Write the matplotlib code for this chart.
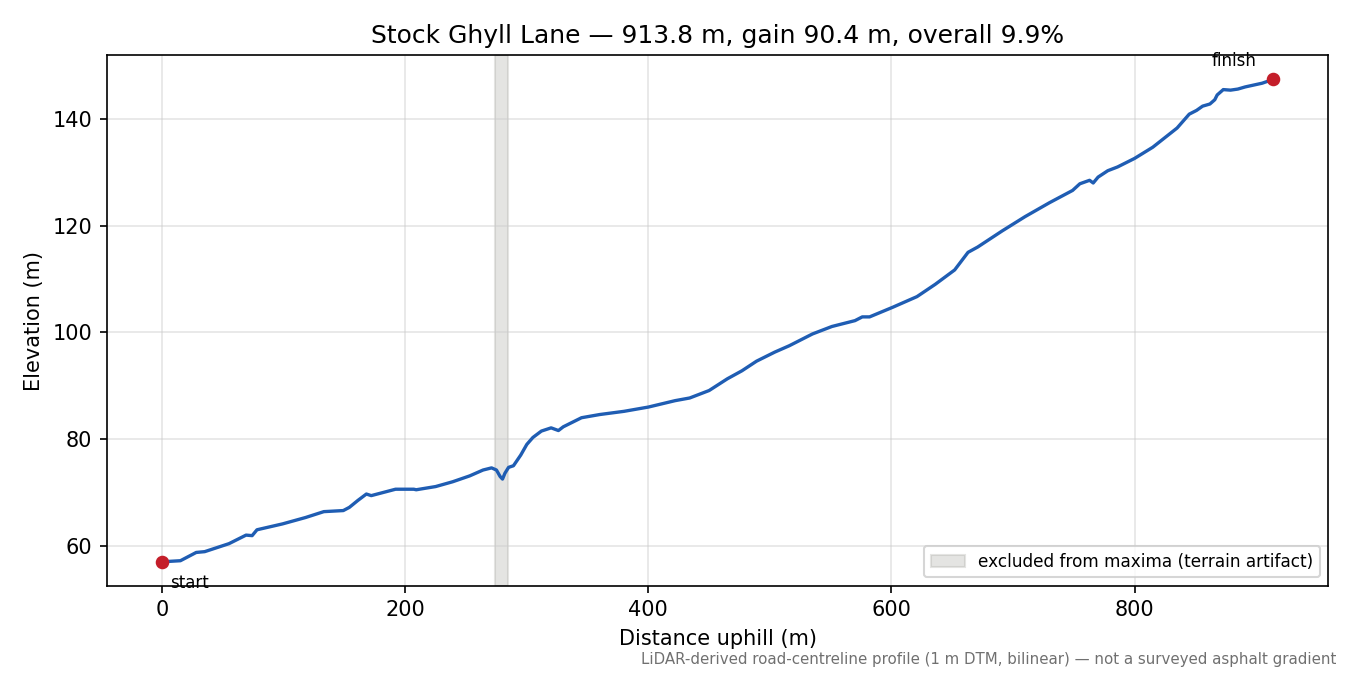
import matplotlib
matplotlib.use("Agg")
import matplotlib.pyplot as plt

# distance along the lane (m) and elevation (m)
dist = [0, 15, 28, 35, 55, 69, 74, 78, 99, 118,
        133, 149, 154, 161, 168, 172, 192, 207, 209, 225,
        239, 253, 264, 271, 275, 278, 280, 282, 285, 289,
        295, 300, 305, 312, 320, 326, 330, 345, 360, 380,
        400, 422, 434, 450, 465, 477, 489, 504, 516, 535,
        551, 570, 576, 582, 601, 621, 636, 652, 656, 663,
        671, 691, 710, 730, 749, 755, 763, 766, 770, 778,
        786, 800, 815, 835, 845, 851, 856, 862, 866, 868,
        873, 879, 885, 891, 905, 913.8]
elev = [57.0, 57.2, 58.75, 58.9, 60.4, 62.0, 61.9, 63.0, 64.1, 65.3,
        66.4, 66.6, 67.2, 68.5, 69.7, 69.4, 70.6, 70.6, 70.5, 71.1,
        72.0, 73.1, 74.2, 74.6, 74.2, 73.0, 72.5, 73.6, 74.7, 75.0,
        77.0, 79.0, 80.3, 81.5, 82.1, 81.6, 82.3, 84.0, 84.6, 85.2,
        86.0, 87.2, 87.7, 89.1, 91.3, 92.8, 94.6, 96.3, 97.5, 99.7,
        101.1, 102.2, 102.9, 102.9, 104.7, 106.7, 109.0, 111.7, 112.9, 115.0,
        116.0, 119.0, 121.7, 124.3, 126.6, 127.85, 128.5, 128.0, 129.1, 130.3,
        131.0, 132.6, 134.7, 138.3, 140.9, 141.6, 142.4, 142.8, 143.6, 144.5,
        145.5, 145.4, 145.6, 146.0, 146.7, 147.4]

# stretch left out when looking for maxima
excluded = (273.5, 284.3)

fig, ax = plt.subplots(figsize=(9, 4.5), dpi=150)
fig.subplots_adjust(left=0.079, right=0.984, top=0.918, bottom=0.132)

ax.axvspan(excluded[0], excluded[1], color="#a8a8a0", alpha=0.3,
           label="excluded from maxima (terrain artifact)")
ax.plot(dist, elev, color="#1f5db3", lw=1.6)
ax.plot([dist[0], dist[-1]], [elev[0], elev[-1]], "o", color="#c41e2a", ms=5.5)

ax.annotate("start", (dist[0], elev[0]), xytext=(4, -6), textcoords="offset points",
            ha="left", va="top", fontsize=8)
ax.annotate("finish", (dist[-1], elev[-1]), xytext=(-8, 4.5), textcoords="offset points",
            ha="right", va="bottom", fontsize=8)

ax.set_title("Stock Ghyll Lane — 913.8 m, gain 90.4 m, overall 9.9%")
ax.set_xlabel("Distance uphill (m)")
ax.set_ylabel("Elevation (m)")
ax.grid(True, color="#cccccc", alpha=0.5, lw=0.8)
ax.legend(loc="lower right", fontsize=8.1)

fig.text(0.99, 0.012, "LiDAR-derived road-centreline profile (1 m DTM, bilinear) — not a surveyed asphalt gradient",
         ha="right", va="bottom", fontsize=7.2, color="#707070")

fig.savefig("out.png", dpi=150)
